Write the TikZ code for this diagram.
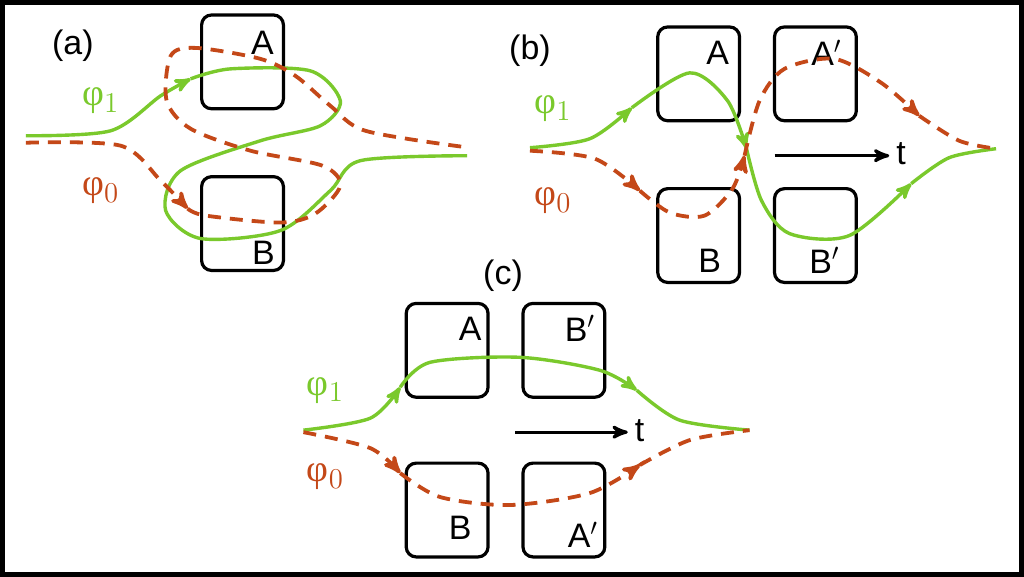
\documentclass[tikz,border=0pt]{standalone}
\usepackage{fontspec}
\setsansfont{Liberation Sans}
\newfontfamily\greekfont{Liberation Serif}
\usetikzlibrary{arrows}
\definecolor{pathgreen}{RGB}{122,201,44}
\definecolor{pathred}{RGB}{196,72,24}

\begin{document}
\begin{tikzpicture}
    [font=\sffamily, x=.5pt, y=-.5pt,
     >=stealth',
     well/.style={draw, line width=1.6pt, rounded corners=5pt,
                  minimum width=41pt, minimum height=47pt, inner sep=0pt},
     tag/.style={font=\sffamily\fontsize{17}{17}\selectfont},
     phione/.style={color=pathgreen, line width=1.7pt},
     phizero/.style={color=pathred, line width=1.9pt, dash pattern=on 6.5pt off 4.5pt},
     greek/.style={font=\greekfont\fontsize{19}{19}\selectfont},
    ]
    % frame
    \draw[line width=2.5pt, fill=white] (1.5,1.5) rectangle (1022.5,574.5);
    \useasboundingbox (0,0) rectangle (1024,576);

    % ---------------- (a)
    \node[tag] (la) at (72,45) {(a)};
    \node[well] (aA) at (242,61) {};
    \node[well] (aB) at (242,223) {};
    \node[tag] at (262,42) {A};
    \node[tag] at (263,252) {B};
    \node[greek, text=pathgreen] (aphi1) at (100,100) {φ$_1$};
    \node[greek, text=pathred] (aphi0) at (100,190) {φ$_0$};
    % green path
    \draw[phione, ->] plot[smooth] coordinates {(25,135) (110,130) (160,95) (190,78)};
    \draw[phione] plot[smooth] coordinates {(190,78) (230,68) (310,70) (340,100)
        (320,125) (260,140) (180,170) (165,210) (200,238) (280,230) (330,190)
        (360,160) (467,155)};
    % red path
    \draw[phizero, ->] plot[smooth] coordinates {(25,142) (120,145) (160,180) (187,208)};
    \draw[phizero] plot[smooth] coordinates {(187,208) (205,215) (280,222)
        (315,213) (340,185) (322,165) (250,150) (190,128) (166,100) (170,55)
        (195,47) (260,58) (295,75) (330,105) (365,130) (462,146)};

    % ---------------- (b)
    \node[tag] (lb) at (530,50) {(b)};
    \node[well] (bA) at (699,73) {};
    \node[well] (bA') at (816,73) {};
    \node[well] (bB) at (699,235) {};
    \node[well] (bB') at (816,235) {};
    \node[tag] at (718,52) {A};
    \node[tag] at (827,52) {A$'$};
    \node[tag] at (710,260) {B};
    \node[tag] at (825,260) {B$'$};
    \node[greek, text=pathgreen] (bphi1) at (553,108) {φ$_1$};
    \node[greek, text=pathred] (bphi0) at (553,200) {φ$_0$};
    \coordinate (bt0) at (775,155);
    \node[tag, anchor=west] (bt) at (890,153) {t};
    \draw[line width=1.6pt, ->] (bt0) -- (bt0 -| bt.west);
    % green path
    \draw[phione, ->] plot[smooth] coordinates {(530,147) (590,138) (632,107)};
    \draw[phione, ->] plot[smooth] coordinates {(632,107) (690,72) (728,100) (747,148)};
    \draw[phione, ->] plot[smooth] coordinates {(747,148) (762,200) (790,233)
        (850,235) (912,183)};
    \draw[phione] plot[smooth] coordinates {(912,183) (950,157) (997,148)};
    % red path
    \draw[phizero, ->] plot[smooth] coordinates {(530,150) (595,158) (640,190)};
    \draw[phizero, ->] plot[smooth] coordinates {(640,190) (670,212) (705,215)
        (733,188) (745,155)};
    \draw[phizero, ->] plot[smooth] coordinates {(745,155) (760,100) (785,68)
        (835,58) (882,82) (920,115)};
    \draw[phizero] plot[smooth] coordinates {(920,115) (960,140) (997,148)};

    % ---------------- (c)
    \node[tag] (lc) at (503,275) {(c)};
    \node[well] (cA) at (447,350) {};
    \node[well] (cB') at (564,350) {};
    \node[well] (cB) at (447,510) {};
    \node[well] (cA') at (564,510) {};
    \node[tag] at (470,328) {A};
    \node[tag] at (580,328) {B$'$};
    \node[tag] at (460,528) {B};
    \node[tag] at (583,535) {A$'$};
    \node[greek, text=pathgreen] (cphi1) at (325,390) {φ$_1$};
    \node[greek, text=pathred] (cphi0) at (325,477) {φ$_0$};
    \coordinate (ct0) at (515,432);
    \node[tag, anchor=west] (ct) at (628,430) {t};
    \draw[line width=1.6pt, ->] (ct0) -- (ct0 -| ct.west);
    % green path
    \draw[phione, ->] plot[smooth] coordinates {(303,430) (370,418) (400,387)};
    \draw[phione, ->] plot[smooth] coordinates {(400,387) (430,362) (520,357)
        (600,370) (637,390)};
    \draw[phione] plot[smooth] coordinates {(637,390) (680,420) (750,430)};
    % red path
    \draw[phizero, ->] plot[smooth] coordinates {(303,432) (370,448) (400,473)};
    \draw[phizero, ->] plot[smooth] coordinates {(400,473) (440,497) (510,505)
        (590,493) (640,465)};
    \draw[phizero] plot[smooth] coordinates {(640,465) (690,440) (750,430)};
\end{tikzpicture}
\end{document}
